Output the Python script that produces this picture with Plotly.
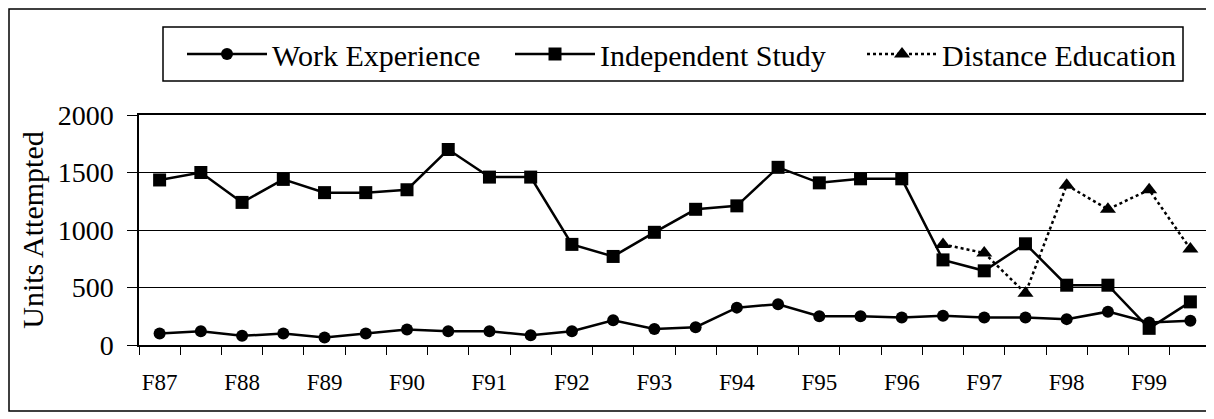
import plotly.graph_objects as go

semesters = ["F87", "S88", "F88", "S89", "F89", "S90", "F90", "S91", "F91", "S92",
             "F92", "S93", "F93", "S94", "F94", "S95", "F95", "S96", "F96", "S97",
             "F97", "S98", "F98", "S99", "F99", "S00"]
tick_labels = [s if s.startswith("F") else "" for s in semesters]

work_experience = [100, 120, 80, 100, 65, 100, 135, 120, 120, 85,
                   120, 215, 140, 155, 325, 355, 250, 250, 240, 255,
                   240, 240, 225, 290, 195, 210]
independent_study = [1435, 1500, 1240, 1440, 1325, 1325, 1350, 1700, 1460, 1460,
                     875, 770, 980, 1180, 1210, 1545, 1410, 1445, 1445, 740,
                     645, 880, 520, 520, 145, 375]
distance_education = [None] * 19 + [875, 800, 450, 1390, 1180, 1350, 835]

FONT = "Liberation Serif, Times New Roman, serif"

fig = go.Figure()
fig.add_trace(go.Scatter(
    x=semesters, y=work_experience, name="Work Experience", mode="lines+markers",
    line=dict(color="black", width=2.5), legend="legend",
    marker=dict(symbol="circle", size=12, color="black")))
fig.add_trace(go.Scatter(
    x=semesters, y=independent_study, name="Independent Study", mode="lines+markers",
    line=dict(color="black", width=2.5), legend="legend2",
    marker=dict(symbol="square", size=13, color="black")))
fig.add_trace(go.Scatter(
    x=semesters, y=distance_education, name="Distance Education", mode="lines+markers",
    line=dict(color="black", width=2.5, dash="dot"), legend="legend3",
    marker=dict(symbol="triangle-up", size=14, color="black")))

# page body has an 8px margin, so the figure is drawn 8px smaller and
# all pixel positions below are in figure coordinates (viewport - 8)
W, H = 1206, 411
L, R, T, B = 131, 3, 107, 74
pw, ph = W - L - R, H - T - B

def px(x):
    return (x - L) / pw

def py(y):
    return (H - B - y) / ph

def leg(xpix, itemwidth):
    return dict(
        orientation="h", xref="container", yref="container",
        x=xpix / W, y=1 - 46 / H, xanchor="left", yanchor="middle",
        font=dict(family=FONT, size=30, color="black"),
        bgcolor="rgba(0,0,0,0)", borderwidth=0, itemwidth=itemwidth,
    )

fig.update_layout(
    width=W, height=H,
    margin=dict(l=L, r=R, t=T, b=B, autoexpand=False),
    paper_bgcolor="white", plot_bgcolor="white",
    font=dict(family=FONT, color="black"),
    showlegend=True,
    legend=leg(174, 80),
    legend2=leg(502, 80),
    legend3=leg(854, 70),
    xaxis=dict(
        type="category", categoryorder="array", categoryarray=semesters,
        tickmode="array", tickvals=semesters, ticktext=tick_labels,
        tickson="boundaries", ticks="outside", ticklen=8, tickwidth=1, tickcolor="black",
        showline=True, linecolor="black", linewidth=1.5, mirror=True,
        showgrid=False, zeroline=False, tickangle=0, automargin=False,
        tickfont=dict(family=FONT, size=23, color="black"),
        ticklabelstandoff=16,
        range=[-0.5, len(semesters) - 0.5],
    ),
    yaxis=dict(
        range=[0, 2000], tickmode="array", tickvals=[0, 500, 1000, 1500, 2000],
        ticks="outside", ticklen=10, tickwidth=1, tickcolor="black",
        showline=True, linecolor="black", linewidth=1.5, mirror=True,
        showgrid=True, gridcolor="black", gridwidth=1, zeroline=False,
        automargin=False,
        tickfont=dict(family=FONT, size=28, color="black"),
        ticklabelstandoff=8,
        title=dict(text="Units Attempted", font=dict(family=FONT, size=30, color="black"),
                   standoff=5),
    ),
    shapes=[
        dict(type="rect", xref="paper", yref="paper",
             x0=px(1), x1=px(1204), y0=py(403), y1=py(1),
             line=dict(color="black", width=1.5), fillcolor="rgba(0,0,0,0)"),
        dict(type="rect", xref="paper", yref="paper",
             x0=px(155), x1=px(1175), y0=py(73), y1=py(19),
             line=dict(color="black", width=1.5), fillcolor="rgba(0,0,0,0)"),
    ],
)

fig.write_html("out.html")
